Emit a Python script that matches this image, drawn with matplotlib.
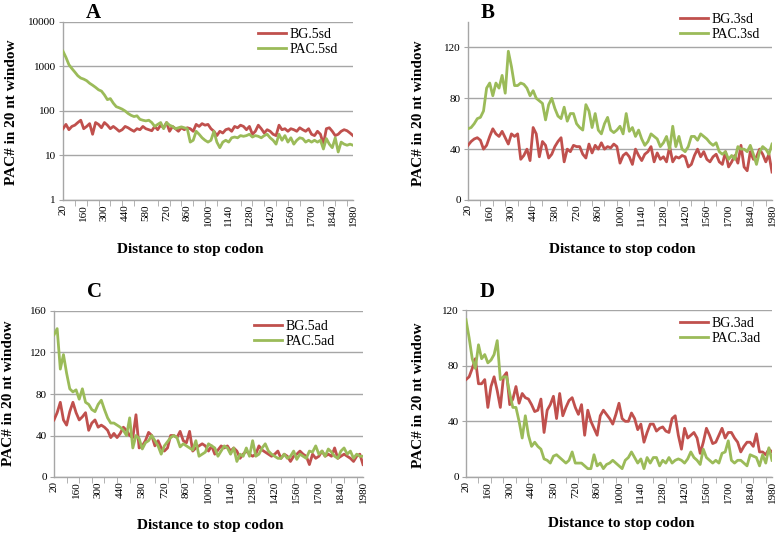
import numpy as np
import matplotlib
matplotlib.use("Agg")
import matplotlib.pyplot as plt
from matplotlib.ticker import FixedLocator, NullFormatter

plt.rcParams['font.family'] = ['Liberation Serif', 'DejaVu Serif']

distance = list(range(20, 2000, 20))  # 20..1980, 99 categories

bg_5sd = [40, 50, 38, 45, 48, 55, 62, 40, 45, 52, 30, 55, 50, 42, 55, 48, 40, 45, 40, 35,
          38, 45, 42, 38, 35, 40, 38, 45, 40, 38, 36, 45, 38, 48, 42, 55, 35, 45, 40, 35,
          42, 38, 42, 40, 35, 50, 45, 52, 48, 50, 40, 35, 28, 35, 32, 38, 40, 35, 45, 42,
          48, 45, 38, 45, 30, 35, 48, 40, 32, 38, 35, 30, 28, 48, 38, 40, 35, 40, 38, 35,
          42, 38, 35, 40, 30, 28, 35, 30, 18, 40, 42, 35, 28, 30, 35, 38, 36, 32, 28]
pac_5sd = [2200, 1600, 1100, 900, 750, 620, 550, 520, 480, 420, 380, 340, 300, 280, 230, 180, 190, 150, 125, 118,
           110, 100, 88, 80, 75, 78, 65, 62, 60, 62, 55, 45, 50, 55, 40, 55, 48, 45, 40, 42,
           44, 42, 40, 20, 22, 35, 30, 25, 22, 20, 22, 35, 20, 15, 20, 22, 20, 25, 26, 25,
           28, 27, 28, 30, 26, 28, 27, 25, 28, 30, 25, 22, 18, 30, 22, 28, 20, 25, 18, 22,
           25, 24, 20, 22, 20, 22, 20, 22, 14, 24, 18, 15, 25, 12, 20, 18, 17, 18, 17]

bg_3sd = [43, 46, 48, 49, 47, 40, 43, 50, 56, 52, 50, 54, 49, 44, 52, 50, 52, 32, 35, 40,
          31, 57, 52, 34, 46, 43, 33, 36, 42, 46, 49, 30, 40, 38, 43, 42, 42, 36, 33, 44,
          37, 43, 40, 45, 40, 42, 41, 44, 42, 29, 35, 37, 34, 28, 40, 35, 31, 36, 38, 42,
          30, 37, 32, 34, 30, 42, 30, 34, 33, 35, 34, 26, 28, 35, 40, 34, 38, 32, 30, 34,
          36, 30, 28, 38, 26, 30, 35, 29, 43, 26, 23, 38, 32, 34, 40, 36, 30, 36, 22]
pac_3sd = [56, 57, 60, 64, 65, 70, 88, 92, 82, 92, 88, 98, 84, 117, 105, 90, 90, 92, 91, 88,
           82, 86, 80, 78, 76, 63, 75, 80, 72, 66, 64, 73, 62, 68, 68, 60, 57, 55, 75, 70,
           57, 68, 55, 52, 60, 65, 55, 53, 55, 58, 52, 68, 54, 57, 50, 55, 48, 43, 46, 52,
           50, 48, 42, 45, 50, 40, 58, 42, 50, 40, 38, 42, 50, 50, 47, 52, 50, 48, 45, 43,
           45, 38, 36, 38, 32, 35, 32, 42, 40, 40, 38, 43, 36, 28, 38, 42, 40, 36, 44]

bg_5ad = [55, 62, 72, 55, 50, 63, 72, 62, 55, 58, 62, 45, 52, 55, 48, 50, 48, 45, 38, 42,
          38, 42, 48, 45, 40, 38, 60, 28, 30, 35, 43, 40, 30, 35, 28, 25, 28, 40, 40, 38,
          44, 35, 33, 44, 25, 28, 30, 32, 30, 25, 30, 22, 26, 30, 28, 30, 25, 28, 25, 18,
          22, 25, 22, 20, 22, 30, 26, 24, 22, 20, 22, 25, 18, 22, 20, 15, 20, 22, 25, 22,
          20, 12, 22, 18, 20, 25, 20, 22, 20, 28, 18, 20, 22, 20, 18, 15, 20, 22, 12]
pac_5ad = [137, 143, 104, 118, 100, 85, 82, 84, 75, 85, 72, 70, 65, 63, 70, 74, 65, 57, 52, 52,
           50, 48, 45, 40, 57, 28, 40, 37, 27, 33, 35, 40, 35, 30, 22, 30, 34, 38, 40, 38,
           29, 32, 30, 28, 26, 35, 20, 22, 24, 32, 30, 28, 20, 25, 30, 28, 22, 28, 15, 22,
           20, 28, 20, 35, 20, 22, 28, 32, 25, 22, 20, 18, 18, 22, 18, 20, 25, 17, 22, 20,
           18, 25, 24, 30, 22, 25, 20, 27, 24, 20, 18, 25, 28, 22, 25, 18, 22, 20, 20]

bg_3ad = [70, 72, 78, 85, 67, 67, 70, 50, 65, 72, 62, 50, 72, 75, 52, 56, 65, 53, 60, 57,
          56, 52, 47, 48, 56, 32, 48, 52, 58, 42, 60, 44, 50, 55, 57, 50, 45, 52, 30, 48,
          40, 35, 30, 44, 48, 45, 42, 38, 45, 53, 42, 40, 40, 46, 42, 34, 38, 25, 32, 38,
          38, 33, 35, 36, 33, 32, 42, 44, 30, 20, 35, 28, 30, 32, 28, 17, 25, 35, 30, 24,
          25, 30, 35, 28, 32, 32, 28, 25, 18, 22, 25, 25, 22, 31, 18, 18, 16, 20, 18]
pac_3ad = [113, 100, 85, 78, 95, 85, 88, 82, 84, 88, 98, 70, 72, 72, 60, 50, 50, 40, 28, 44,
           30, 22, 25, 22, 20, 13, 12, 10, 15, 16, 14, 12, 10, 12, 18, 10, 10, 10, 8, 6,
           6, 16, 8, 10, 6, 9, 10, 12, 10, 8, 6, 12, 14, 18, 14, 10, 13, 6, 14, 10,
           14, 14, 8, 12, 10, 14, 10, 12, 13, 12, 10, 13, 18, 14, 12, 9, 20, 14, 12, 10,
           12, 10, 17, 18, 26, 12, 10, 12, 12, 10, 8, 16, 15, 14, 8, 16, 10, 21, 12]

RED = '#C0504D'
GREEN = '#9BBB59'
GRID = '#a6a6a6'
W, H = 778, 533

fig = plt.figure(figsize=(W / 100, H / 100), dpi=100)


def px_axes(l, r, t, b):
    return fig.add_axes([l / W, 1 - b / H, (r - l) / W, (b - t) / H])


panels = [
    dict(box=(63, 353, 22, 200), bg=bg_5sd, pac=pac_5sd, names=('BG.5sd', 'PAC.5sd'), log=True,
         ylim=(1, 10000), yticks=[1, 10, 100, 1000, 10000], letter='A', lx=93, ly=13,
         ylab=(12, 112), xlab=(190, 250), leg=(258, 35)),
    dict(box=(468, 772, 22, 200), bg=bg_3sd, pac=pac_3sd, names=('BG.3sd', 'PAC.3sd'), log=False,
         ylim=(0, 140), yticks=[0, 40, 80, 120], letter='B', lx=488, ly=13,
         ylab=(418, 113), xlab=(622, 250), leg=(680, 20)),
    dict(box=(54, 363, 311, 477), bg=bg_5ad, pac=pac_5ad, names=('BG.5ad', 'PAC.5ad'), log=False,
         ylim=(0, 160), yticks=[0, 40, 80, 120, 160], letter='C', lx=95, ly=292,
         ylab=(9, 393), xlab=(210, 525), leg=(254, 327)),
    dict(box=(466, 772, 310, 477), bg=bg_3ad, pac=pac_3ad, names=('BG.3ad', 'PAC.3ad'), log=False,
         ylim=(0, 120), yticks=[0, 40, 80, 120], letter='D', lx=487, ly=292,
         ylab=(418, 395), xlab=(621, 524), leg=(680, 324)),
]

idx = np.arange(len(distance))

for p in panels:
    ax = px_axes(*p['box'])
    l1, = ax.plot(idx, p['bg'], color=RED, lw=2, label=p['names'][0], zorder=3)
    l2, = ax.plot(idx, p['pac'], color=GREEN, lw=2, label=p['names'][1], zorder=3)
    if p['log']:
        ax.set_yscale('log')
        ax.yaxis.set_minor_locator(FixedLocator([]))
        ax.yaxis.set_minor_formatter(NullFormatter())
    ax.set_ylim(*p['ylim'])
    ax.set_yticks(p['yticks'])
    ax.set_yticklabels([str(v) for v in p['yticks']], fontsize=8)
    ax.set_xlim(0, len(distance) - 1)
    ax.set_xticks(idx[::7])
    ax.set_xticklabels([str(distance[i]) for i in idx[::7]], rotation=90, fontsize=8)
    ax.set_xticks(idx[::4], minor=True)
    ax.tick_params(axis='x', which='major', length=0, pad=3)
    ax.tick_params(axis='x', which='minor', length=4, color=GRID, direction='out')
    ax.tick_params(axis='y', length=3, color=GRID, direction='out', pad=2)
    ax.grid(axis='y', color=GRID, lw=1, zorder=0)
    for s in ('top', 'right'):
        ax.spines[s].set_visible(False)
    for s in ('left', 'bottom'):
        ax.spines[s].set_color(GRID)
        ax.spines[s].set_linewidth(1)
    ax.set_axisbelow(True)

    fig.text(p['lx'] / W, 1 - p['ly'] / H, p['letter'], fontsize=15, fontweight='bold',
             ha='center', va='center')
    fig.text(p['ylab'][0] / W, 1 - p['ylab'][1] / H, 'PAC# in 20 nt window', fontsize=11,
             fontweight='bold', rotation=90, ha='center', va='center')
    fig.text(p['xlab'][0] / W, 1 - p['xlab'][1] / H, 'Distance to stop codon', fontsize=11,
             fontweight='bold', ha='center', va='center')
    lx, ly = p['leg']
    ax.legend(handles=[l1, l2], loc='upper left', bbox_to_anchor=(lx / W, 1 - (ly - 7) / H),
              bbox_transform=fig.transFigure, frameon=False, fontsize=10, handlelength=2.0,
              handletextpad=0.25, labelspacing=0.15, borderpad=0, borderaxespad=0)

fig.savefig('out.png', dpi=100)
